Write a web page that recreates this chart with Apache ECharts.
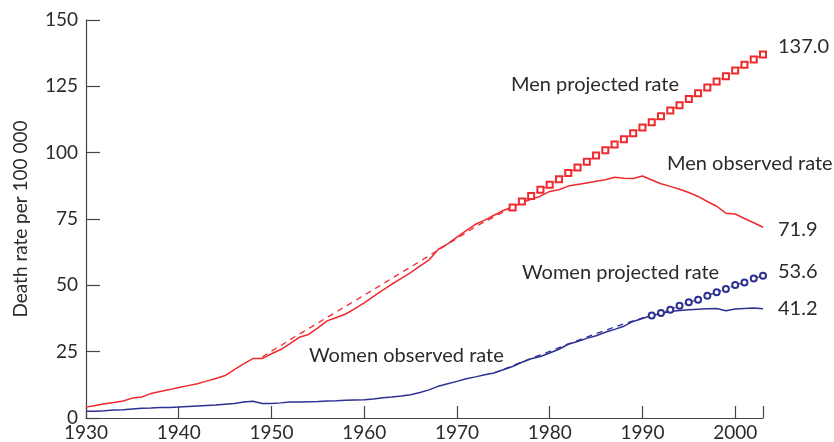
<!DOCTYPE html>
<html>
<head>
<meta charset="utf-8">
<script src="https://cdn.jsdelivr.net/npm/echarts@6/dist/echarts.min.js"></script>
<style>
html,body{margin:0;padding:0;background:#fff;}
#chart{width:834px;height:442px;}
</style>
</head>
<body>
<div id="chart"></div>
<script>
// ---- data ----
const observedStartYear = 1930;
const menObserved = [4.1,4.7,5.4,5.8,6.4,7.5,7.9,9.2,10.0,10.7,
  11.5,12.2,12.9,13.9,14.9,16.0,18.2,20.4,22.4,22.4,
  24.2,25.8,28.0,30.4,31.5,34.0,36.6,37.9,39.2,41.2,
  43.4,45.8,48.2,50.5,52.6,54.8,57.2,59.6,63.6,65.6,
  68.2,70.6,73.0,74.6,76.4,78.2,79.5,81.2,82.4,83.6,
  85.4,86.0,87.4,88.0,88.6,89.2,89.8,90.7,90.4,90.3,
  91.2,89.7,88.3,87.3,86.2,85.0,83.5,81.6,79.8,77.2,
  76.9,75.2,73.6,71.9];
const womenObserved = [2.5,2.5,2.7,3.0,3.1,3.4,3.7,3.8,4.0,4.0,
  4.1,4.3,4.5,4.7,4.9,5.2,5.5,6.0,6.3,5.5,
  5.5,5.7,6.0,6.0,6.1,6.2,6.4,6.5,6.7,6.8,
  6.9,7.2,7.6,7.9,8.3,8.8,9.6,10.6,12.0,12.9,
  13.8,14.8,15.5,16.3,17.0,18.2,19.4,21.0,22.3,23.2,
  24.5,25.9,27.8,28.8,30.0,31.0,32.3,33.4,34.6,36.4,
  37.5,38.6,39.4,40.1,40.5,40.8,41.0,41.2,41.3,40.4,
  41.1,41.3,41.5,41.2];
const menProjectedStartYear = 1949;
const menProjected = [23.0,25.2,27.3,29.5,31.6,33.7,35.8,37.9,40.0,42.1,
  44.2,46.3,48.4,50.5,52.7,54.8,56.9,59.0,61.2,
  63.3,65.5,67.7,69.9,72.1,74.0,75.8,77.6,
  79.3,81.6,83.7,86.0,87.9,90.0,92.3,94.4,96.6,98.9,
  100.9,103.1,105.1,107.3,109.5,111.5,113.7,115.9,117.9,120.2,
  122.4,124.6,126.8,128.8,131.0,133.1,135.1,137.0];
const menMarkerStartYear = 1976;
const womenProjectedStartYear = 1974;
const womenProjected = [17.0,18.3,19.7,21.1,22.5,23.8,25.1,26.5,27.9,29.2,
  30.5,31.8,33.0,34.3,35.5,36.6,37.7,
  38.6,39.6,40.8,42.3,43.6,44.6,46.1,47.4,48.6,50.1,51.1,52.6,53.6];
const womenMarkerStartYear = 1991;
const xTicks = [1930,1940,1950,1960,1970,1980,1990,2000];
const yTicks = [0,25,50,75,100,125,150];
const labels = {
  menProj: 'Men projected rate',
  menObs: 'Men observed rate',
  womenProj: 'Women projected rate',
  womenObs: 'Women observed rate',
  yAxis: 'Death rate per 100 000'
};

// ---- build ----
function pairs(arr, start, from, to) {
  const out = [];
  arr.forEach((v, i) => {
    const y = start + i;
    if ((from === undefined || y >= from) && (to === undefined || y <= to)) out.push([y, v]);
  });
  return out;
}
const RED = '#ee2a2e';
const BLUE = '#2e3192';
const TXT = '#2b2b2b';
const FONT = 'Lato';
const FS = 19;
const FA = 20;

const chart = echarts.init(document.getElementById('chart'), null, {renderer: 'canvas'});
const endLbl = (offY) => ({
  show: true, distance: 15, offset: [0, offY], color: TXT, fontFamily: FONT, fontSize: FA,
  formatter: p => p.value[1].toFixed(1)
});
chart.setOption({
  animation: false,
  textStyle: {fontFamily: FONT},
  grid: {left: 86, right: 71, top: 20, bottom: 23, containLabel: false},
  xAxis: {
    type: 'value', min: 1930, max: 2003, interval: 10,
    axisLine: {show: true, lineStyle: {color: '#444', width: 1.2}},
    axisTick: {show: true, inside: true, length: 12, lineStyle: {color: '#444', width: 1.2}},
    axisLabel: {color: TXT, fontSize: FS, fontFamily: FONT, margin: 5,
      formatter: v => xTicks.includes(v) ? String(v) : ''},
    splitLine: {show: false}
  },
  yAxis: {
    type: 'value', min: 0, max: 150, interval: 25,
    name: labels.yAxis, nameLocation: 'middle', nameGap: 56,
    nameTextStyle: {color: TXT, fontSize: FS, fontFamily: FONT},
    axisLine: {show: true, lineStyle: {color: '#444', width: 1.2}},
    axisTick: {show: true, inside: true, length: 14, lineStyle: {color: '#444', width: 1.2}},
    axisLabel: {color: TXT, fontSize: FS, fontFamily: FONT, margin: 8,
      formatter: v => yTicks.includes(v) ? String(v) : ''},
    splitLine: {show: false}
  },
  series: [
    {type: 'line', name: labels.menObs, data: pairs(menObserved, observedStartYear),
     showSymbol: false, symbol: 'none', lineStyle: {color: RED, width: 1.5},
     endLabel: endLbl(2), z: 3},
    {type: 'line', name: labels.womenObs, data: pairs(womenObserved, observedStartYear),
     showSymbol: false, symbol: 'none', lineStyle: {color: BLUE, width: 1.5},
     endLabel: endLbl(0), z: 3},
    {type: 'line', name: labels.menProj + ' (dashed)', data: pairs(menProjected, menProjectedStartYear, undefined, menMarkerStartYear),
     showSymbol: false, symbol: 'none', lineStyle: {color: RED, width: 1.3, type: [6, 5]}, z: 4},
    {type: 'line', name: labels.menProj, data: pairs(menProjected, menProjectedStartYear, menMarkerStartYear),
     symbol: 'emptyRect', symbolSize: 6, showSymbol: true,
     itemStyle: {color: RED, borderColor: RED, borderWidth: 1.1},
     lineStyle: {color: RED, width: 1.2, type: [4, 3]},
     endLabel: endLbl(-8), z: 5},
    {type: 'line', name: labels.womenProj + ' (dashed)', data: pairs(womenProjected, womenProjectedStartYear, undefined, womenMarkerStartYear),
     showSymbol: false, symbol: 'none', lineStyle: {color: BLUE, width: 1.3, type: [6, 5]}, z: 4},
    {type: 'line', name: labels.womenProj, data: pairs(womenProjected, womenProjectedStartYear, womenMarkerStartYear),
     symbol: 'emptyCircle', symbolSize: 6, showSymbol: true,
     itemStyle: {color: BLUE, borderColor: BLUE, borderWidth: 1.1},
     lineStyle: {color: BLUE, width: 1.2, type: [4, 3]},
     endLabel: endLbl(-4), z: 5}
  ],
  graphic: [
    {type: 'text', left: 511, top: 75, style: {text: labels.menProj, fill: TXT, font: FA + 'px ' + FONT}},
    {type: 'text', left: 667, top: 154, style: {text: labels.menObs, fill: TXT, font: FA + 'px ' + FONT}},
    {type: 'text', left: 522, top: 263, style: {text: labels.womenProj, fill: TXT, font: FA + 'px ' + FONT}},
    {type: 'text', left: 309, top: 346, style: {text: labels.womenObs, fill: TXT, font: FA + 'px ' + FONT}}
  ]
});
</script>
</body>
</html>
